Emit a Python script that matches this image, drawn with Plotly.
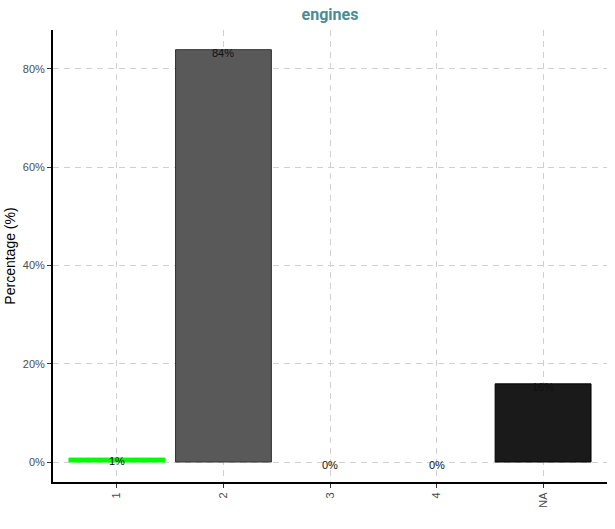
import plotly.graph_objects as go

categories = ["1", "2", "3", "4", "NA"]
values = [0.8, 83.9, 0.0, 0.0, 15.9]
labels = ["1%", "84%", "0%", "0%", "16%"]
colors = ["#00FF00", "#595959", "#595959", "#595959", "#1A1A1A"]
line_colors = ["#00FF00", "#333333", "#333333", "#333333", "#000000"]
y_ticks = [0, 20, 40, 60, 80]
y_tick_labels = ["0%", "20%", "40%", "60%", "80%"]

line_widths = [1 if v > 0 else 0 for v in values]

fig = go.Figure()
fig.add_trace(go.Bar(
    x=categories, y=values, width=0.9,
    marker=dict(color=colors, line=dict(color=line_colors, width=line_widths)),
    hoverinfo="skip",
))
for i, (v, t) in enumerate(zip(values, labels)):
    fig.add_annotation(x=i, y=v, text=t, showarrow=False, yanchor="middle",
                       yshift=-3, font=dict(family="Liberation Sans, Arial", size=11, color="#111111"))

fig.update_layout(
    width=615, height=529,
    margin=dict(l=53, r=8, t=30, b=47),
    plot_bgcolor="white", paper_bgcolor="white",
    showlegend=False,
    title=dict(text="<b>engines</b>", x=(53 + 607) / 2 / 615, xanchor="center", y=1 - 14 / 529, yanchor="middle",
               font=dict(family="Roboto, Liberation Sans", size=16, color="#4A8C92")),
    font=dict(family="Liberation Sans, Arial"),
)
fig.update_xaxes(
    type="category", range=[-0.6, 4.6],
    showline=True, linecolor="black", linewidth=2,
    showgrid=True, gridcolor="#D0D0D0", griddash="6px,5px", gridwidth=1,
    ticks="outside", ticklen=4, tickcolor="#333333",
    tickangle=-90, tickfont=dict(size=11, color="#4D4D4D"),
    zeroline=False,
)
fig.update_yaxes(
    range=[-4.07, 87.9],
    tickvals=y_ticks, ticktext=y_tick_labels,
    showline=True, linecolor="black", linewidth=2,
    showgrid=True, gridcolor="#D0D0D0", griddash="6px,5px", gridwidth=1,
    ticks="outside", ticklen=4, tickcolor="#333333",
    tickfont=dict(size=11, color="#4D4D4D"),
    title=dict(text="Percentage (%)", font=dict(size=14, color="black"), standoff=4),
    zeroline=False,
)
fig.write_html("out.html")
